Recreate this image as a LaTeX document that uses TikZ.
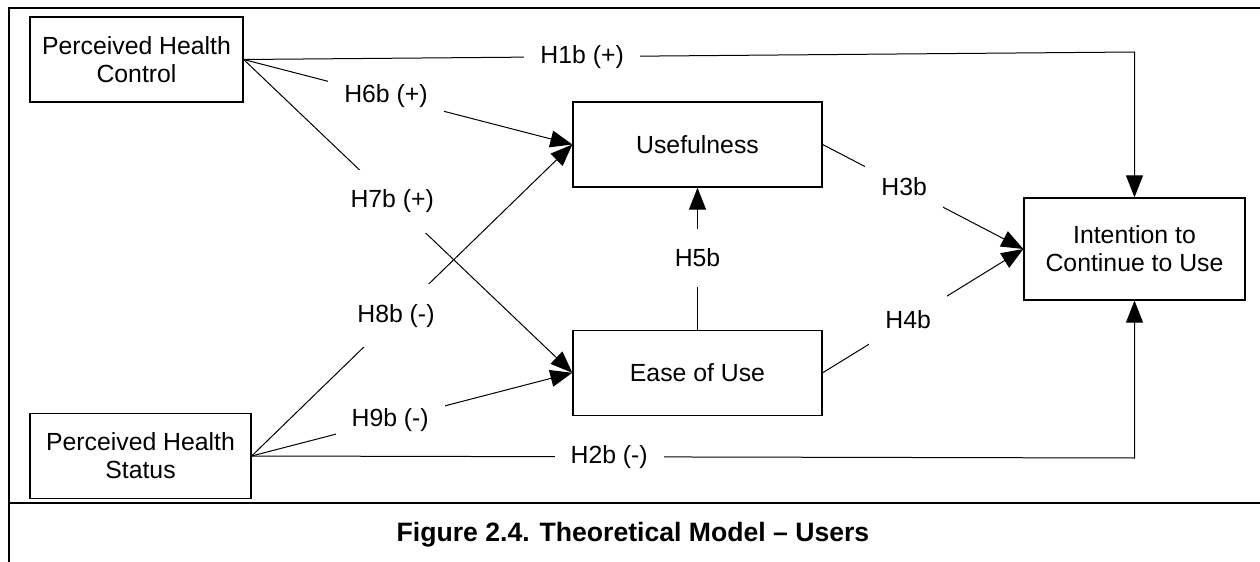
\documentclass[tikz,border=0pt]{standalone}
\usepackage{fontspec}
\setmainfont{Liberation Sans}
\usetikzlibrary{arrows.meta, positioning}
\tikzset{
  varbox/.style={
    rectangle, draw=black, line width=0.65pt, fill=white,
    minimum width=#1, minimum height=42.5pt, inner sep=0pt,
    align=center, font=\fontsize{12.4}{14}\selectfont
  },
  hyplabel/.style={
    fill=white, inner xsep=8pt, inner ysep=10pt,
    font=\fontsize{12.4}{14}\selectfont
  },
  arrow/.style={line width=0.5pt, -{Triangle[length=11pt, width=8.5pt]}},
  borderline/.style={line width=1.2pt},
}

\begin{document}
\begin{tikzpicture}[x=0.5pt, y=-0.5pt]
  \useasboundingbox (0,0) rectangle (1260,562);

  % --- Marco de la figura ---
  \draw[borderline] (1260,8) -- (9,8) -- (9,562);
  \draw[borderline] (9,503) -- (1260,503);

  % --- Variables exogenas (columna izquierda) ---
  \node (phc) [varbox=106.5pt] at (136.5,59.5) {Perceived Health\\Control};
  \node (phs) [varbox=110.5pt] at (140.5,456)  {Perceived Health\\Status};

  % --- Columna central: Usefulness y Ease of Use ---
  \node (use) [varbox=124.5pt] at (697.5,144.5)  {Usefulness};
  \node (eou) [varbox=124.5pt, below=71pt of use] {Ease of Use};

  % --- Variable dependiente ---
  \node (int) [varbox=110.5pt, minimum height=51pt] at (1134.5,249)
        {Intention to\\Continue to Use};

  % Puntos de quiebre de H1b y H2b
  \coordinate (h1bend) at (1134.5,52);
  \coordinate (h2bend) at (1134.5,458);

  % --- Hipotesis ---
  \draw[arrow] (phc.east) -- node[hyplabel, pos=0.38]{H1b (+)} (h1bend) -- (int.north);
  \draw[arrow] (phs.east) -- node[hyplabel, pos=0.405]{H2b (-)} (h2bend) -- (int.south);
  \draw[arrow] (phc.east) -- node[hyplabel, pos=0.433]{H6b (+)} (use.west);
  \draw[arrow] (phc.east) -- node[hyplabel, pos=0.452]{H7b (+)} (eou.west);
  \draw[arrow] (phs.east) -- node[hyplabel, pos=0.45]{H8b (-)} (use.west);
  \draw[arrow] (phs.east) -- node[hyplabel, pos=0.432]{H9b (-)} (eou.west);
  \draw[arrow] (use.east) -- node[hyplabel, pos=0.406]{H3b} (int.west);
  \draw[arrow] (eou.east) -- node[hyplabel, pos=0.426]{H4b} (int.west);
  \draw[arrow] (eou.north) -- node[hyplabel, pos=0.507]{H5b} (use.south);

  % --- Titulo ---
  \node (caption) at (633,535)
        {\bfseries\fontsize{13.3}{16}\selectfont Figure 2.4. Theoretical Model – Users};

\end{tikzpicture}
\end{document}
